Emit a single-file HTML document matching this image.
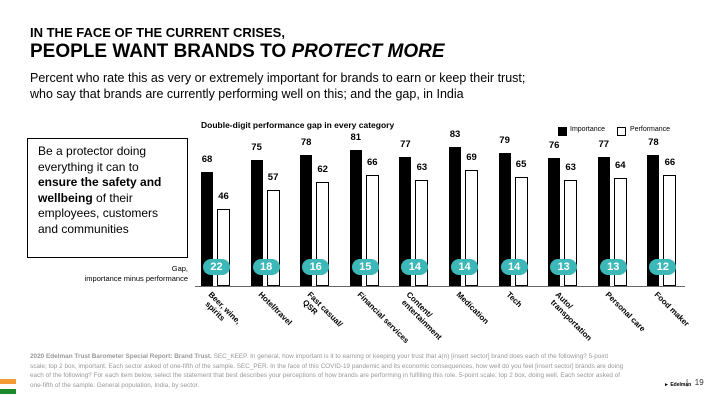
<!DOCTYPE html>
<html><head><meta charset="utf-8"><style>
body{margin:0;width:720px;height:405px;background:#fff;font-family:"Liberation Sans",sans-serif;position:relative;overflow:hidden;color:#000}
.a{position:absolute}
.bb{position:absolute;background:#000;width:12px;bottom:119px}
.wb{position:absolute;background:#fff;border:1.3px solid #000;box-sizing:border-box;width:13px;bottom:119px}
.v{position:absolute;font-size:9.5px;font-weight:bold;width:24px;text-align:center}
.g{position:absolute;background:#3db8b8;color:#fff;font-weight:bold;font-size:11px;width:27px;height:16px;border-radius:8px;text-align:center;line-height:16px;top:259px}
.x{position:absolute;font-size:8px;font-weight:bold;transform-origin:0 0;transform:rotate(45deg);white-space:nowrap;line-height:9px}
</style></head><body>
<div class="a" style="left:30px;top:25px;font-size:13px;font-weight:bold">IN THE FACE OF THE CURRENT CRISES,</div>
<div class="a" style="left:30px;top:41px;font-size:19px;font-weight:bold">PEOPLE WANT BRANDS TO <i>PROTECT MORE</i></div>
<div class="a" style="left:30px;top:70px;font-size:12.5px;line-height:16px">Percent who rate this as very or extremely important for brands to earn or keep their trust;<br>who say that brands are currently performing well on this; and the gap, in India</div>
<div class="a" style="left:27px;top:138px;width:161px;height:120px;border:1px solid #000;box-sizing:border-box;padding:5px 10px;font-size:12px;line-height:15.5px">Be a protector doing everything it can to <b>ensure the safety and wellbeing</b> of their employees, customers and communities</div>
<div class="a" style="left:40px;top:264px;width:148px;text-align:right;font-size:7.5px;line-height:10px">Gap,<br>importance minus performance</div>
<div class="a" style="left:201px;top:120px;font-size:8.5px;font-weight:bold">Double-digit performance gap in every category</div>
<div class="a" style="left:558px;top:127px;width:9px;height:9px;background:#000"></div>
<div class="a" style="left:570px;top:126px;font-size:7px">Importance</div>
<div class="a" style="left:617px;top:127px;width:9px;height:9px;border:1px solid #000;box-sizing:border-box"></div>
<div class="a" style="left:630px;top:126px;font-size:7px">Performance</div>
<div class="a" style="left:195px;top:286px;width:490px;height:1px;background:#666"></div>
<div id="c"></div>
<div class="a" style="left:30px;top:352px;width:595px;font-size:6.4px;line-height:9.7px;color:#999"><b>2020 Edelman Trust Barometer Special Report: Brand Trust.</b> SEC_KEEP. In general, how important is it to earning or keeping your trust that a(n) [insert sector] brand does each of the following? 5-point scale; top 2 box, important. Each sector asked of one-fifth of the sample. SEC_PER. In the face of this COVID-19 pandemic and its economic consequences, how well do you feel [insert sector] brands are doing each of the following? For each item below, select the statement that best describes your perceptions of how brands are performing in fulfilling this role. 5-point scale; top 2 box, doing well. Each sector asked of one-fifth of the sample. General population, India, by sector.</div>
<div class="a" style="left:0;top:379px;width:16px;height:5px;background:#f39a33"></div>
<div class="a" style="left:0;top:389px;width:16px;height:5px;background:#1a8a2a"></div>
<div class="a" style="left:664px;top:382px;font-size:5px;font-weight:bold">&#9658; Edelman</div>
<div class="a" style="left:686px;top:378px;font-size:8px;color:#333">|&nbsp;&nbsp; 19</div>
<script>
var d=[[68,46,22,"Beer, wine,<br>&nbsp;&nbsp;spirits"],[75,57,18,"Hotel/travel"],[78,62,16,"Fast casual/<br>&nbsp;QSR"],[81,66,15,"Financial services"],[77,63,14,"Content/<br>&nbsp;entertainment"],[83,69,14,"Medication"],[79,65,14,"Tech"],[76,63,13,"Auto/<br>&nbsp;transportation"],[77,64,13,"Personal care"],[78,66,12,"Food maker"]];
var h="";
d.forEach(function(r,i){var x=201+i*49.6,k=1.68;
h+='<div class="bb" style="left:'+x+'px;height:'+r[0]*k+'px"></div>';
h+='<div class="wb" style="left:'+(x+16)+'px;height:'+r[1]*k+'px"></div>';
h+='<div class="v" style="left:'+(x-6)+'px;top:'+(286-r[0]*k-18)+'px">'+r[0]+'</div>';
h+='<div class="v" style="left:'+(x+10.5)+'px;top:'+(286-r[1]*k-18)+'px">'+r[1]+'</div>';
h+='<div class="g" style="left:'+(x+2)+'px">'+r[2]+'</div>';
h+='<div class="x" style="left:'+(x+12)+'px;top:290px">'+r[3]+'</div>';});
document.getElementById("c").innerHTML=h;
</script>
</body></html>
